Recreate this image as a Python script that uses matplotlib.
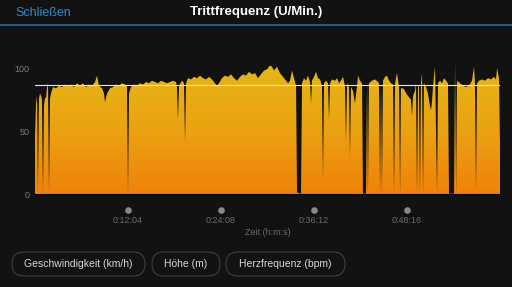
#import necessary libraries
import numpy as np
import matplotlib.pyplot as plt
from matplotlib.colors import LinearSegmentedColormap
from matplotlib.patches import FancyBboxPatch, Polygon
import matplotlib.transforms as mtransforms

plt.rcParams['font.family'] = ['Liberation Sans', 'DejaVu Sans']

#cadence readings (seconds since start, steps per minute)
time_s = [0, 8, 16, 23, 31, 39, 47, 54, 62, 70, 78, 86, 93, 101, 109, 117, 125, 140, 163, 187,
          210, 234, 257, 280, 304, 327, 350, 374, 397, 420, 444, 467, 483, 498, 522, 537, 545, 561, 584, 607,
          631, 654, 677, 701, 716, 724, 732, 747, 771, 794, 817, 841, 864, 887, 911, 934, 958, 981, 1004, 1028,
          1051, 1074, 1098, 1105, 1113, 1121, 1144, 1160, 1168, 1176, 1191, 1214, 1238, 1261, 1285, 1308, 1331, 1355, 1378, 1401,
          1417, 1432, 1456, 1479, 1503, 1526, 1549, 1573, 1596, 1619, 1643, 1666, 1689, 1713, 1736, 1759, 1783, 1806, 1829, 1845,
          1861, 1884, 1907, 1931, 1954, 1970, 1985, 2001, 2016, 2032, 2040, 2071, 2079, 2094, 2110, 2125, 2141, 2149, 2156, 2172,
          2188, 2203, 2219, 2234, 2242, 2250, 2265, 2281, 2289, 2297, 2312, 2336, 2351, 2367, 2382, 2398, 2413, 2421, 2429, 2444,
          2452, 2460, 2476, 2491, 2507, 2515, 2530, 2546, 2553, 2577, 2585, 2592, 2600, 2624, 2647, 2670, 2678, 2686, 2694, 2701,
          2709, 2725, 2740, 2756, 2772, 2787, 2795, 2803, 2818, 2834, 2842, 2849, 2865, 2880, 2896, 2912, 2927, 2935, 2943, 2958,
          2966, 2974, 2982, 2989, 2997, 3005, 3013, 3021, 3028, 3044, 3059, 3075, 3083, 3091, 3098, 3114, 3130, 3137, 3153, 3169,
          3184, 3200, 3215, 3223, 3262, 3270, 3278, 3285, 3309, 3332, 3355, 3379, 3402, 3418, 3425, 3433, 3441, 3457, 3480, 3503,
          3527, 3550, 3573, 3589, 3597, 3612, 3620]
cadence = [46, 72, 78, 2, 76, 80, 78, 75, 2, 70, 77, 76, 84, 88, 1, 76, 80, 85, 84, 86,
           85, 87, 86, 87, 85, 88, 86, 88, 85, 87, 86, 89, 94, 86, 84, 80, 73, 80, 84, 85,
           87, 86, 88, 87, 86, 1, 80, 85, 87, 86, 88, 87, 89, 88, 90, 89, 88, 90, 89, 88,
           89, 90, 89, 85, 59, 86, 90, 88, 41, 88, 92, 91, 93, 92, 94, 92, 91, 93, 91, 88,
           86, 88, 92, 94, 93, 95, 92, 90, 93, 95, 94, 97, 95, 96, 92, 95, 98, 99, 102, 101,
           98, 101, 96, 93, 90, 88, 90, 98, 92, 86, 2, 1, 88, 92, 90, 94, 89, 72, 90, 93,
           97, 92, 91, 86, 12, 88, 90, 88, 59, 88, 91, 90, 92, 88, 90, 93, 86, 42, 88, 85,
           30, 85, 82, 72, 86, 94, 90, 88, 1, 1, 88, 2, 88, 90, 91, 89, 88, 2, 88, 1,
           90, 93, 94, 90, 88, 87, 1, 88, 96, 85, 1, 84, 84, 82, 79, 77, 75, 62, 78, 82,
           88, 1, 85, 86, 1, 88, 96, 1, 88, 85, 80, 70, 67, 74, 85, 101, 1, 88, 90, 88,
           92, 90, 88, 1, 1, 105, 1, 90, 88, 86, 85, 86, 90, 101, 88, 2, 88, 90, 91, 90,
           92, 91, 93, 91, 100, 92, 40]
avg_cadence = 87

tick_seconds = [724, 1448, 2172, 2896]
tick_labels = ['0:12:04', '0:24:08', '0:36:12', '0:48:16']
y_ticks = [0, 50, 100]
buttons = ['Geschwindigkeit (km/h)', 'Höhe (m)', 'Herzfrequenz (bpm)']

bg = '#121212'
fig = plt.figure(figsize=(5.12, 2.87), dpi=100, facecolor=bg)

#overlay in pixel coordinates for header and buttons
over = fig.add_axes([0, 0, 1, 1])
over.set_xlim(0, 512)
over.set_ylim(287, 0)
over.axis('off')
over.text(15, 12.5, 'Schließen', color='#2e8bc9', fontsize=9, va='center', ha='left')
over.text(256, 12.5, 'Trittfrequenz (U/Min.)', color='white', fontsize=9.5,
          fontweight='bold', va='center', ha='center')
over.plot([0, 512], [25, 25], color='#1f6ea6', lw=1.2)

button_x = [12, 152, 226]
button_w = [133, 68, 119]
for label, bx, bw in zip(buttons, button_x, button_w):
    over.add_patch(FancyBboxPatch((bx, 252), bw, 24, boxstyle='round,pad=0,rounding_size=12',
                                  fc='none', ec='#3c3c3c', lw=0.9))
    over.text(bx + bw / 2, 264, label, color='#d8d8d8', fontsize=7.5, ha='center', va='center')

#main chart
ax = fig.add_axes([35 / 512, 1 - 195 / 287, 465 / 512, 135 / 287])
ax.set_facecolor('none')
ax.set_xlim(0, 3620)
ymax = 135 / 127 * 100
ax.set_ylim(0, ymax)

cmap = LinearSegmentedColormap.from_list('cad', ['#ef820a', '#eba312', '#e6b816'])
grad = np.linspace(0, 1, 256).reshape(-1, 1)
img = ax.imshow(grad, cmap=cmap, origin='lower', aspect='auto', extent=[0, 3620, 0, ymax], zorder=1)
verts = [(time_s[0], 0)] + list(zip(time_s, cadence)) + [(time_s[-1], 0)]
poly = Polygon(verts, closed=True, fc='none', ec='none')
ax.add_patch(poly)
img.set_clip_path(poly)

ax.axhline(avg_cadence, color='#f3e9c8', lw=0.8, zorder=3)
ax.axhline(0, color='#050505', lw=1.5, zorder=3)

for s in ax.spines.values():
    s.set_visible(False)
ax.set_yticks(y_ticks)
ax.set_yticklabels([str(v) for v in y_ticks], color='#7a7a7a', fontsize=6.5)
ax.tick_params(axis='y', length=0, pad=4)
ax.set_xticks(tick_seconds)
ax.set_xticklabels(tick_labels, color='#6a6a6a', fontsize=6.5)
ax.tick_params(axis='x', length=0, pad=15)
ax.set_xlabel('Zeit (h:m:s)', color='#6a6a6a', fontsize=6.5, labelpad=2)

trans = mtransforms.blended_transform_factory(ax.transData, ax.transAxes)
ax.scatter(tick_seconds, [-0.111] * len(tick_seconds), s=14, color='#8a8a8a',
           transform=trans, clip_on=False, zorder=4)

fig.savefig('out.png', dpi=100, facecolor=bg)
